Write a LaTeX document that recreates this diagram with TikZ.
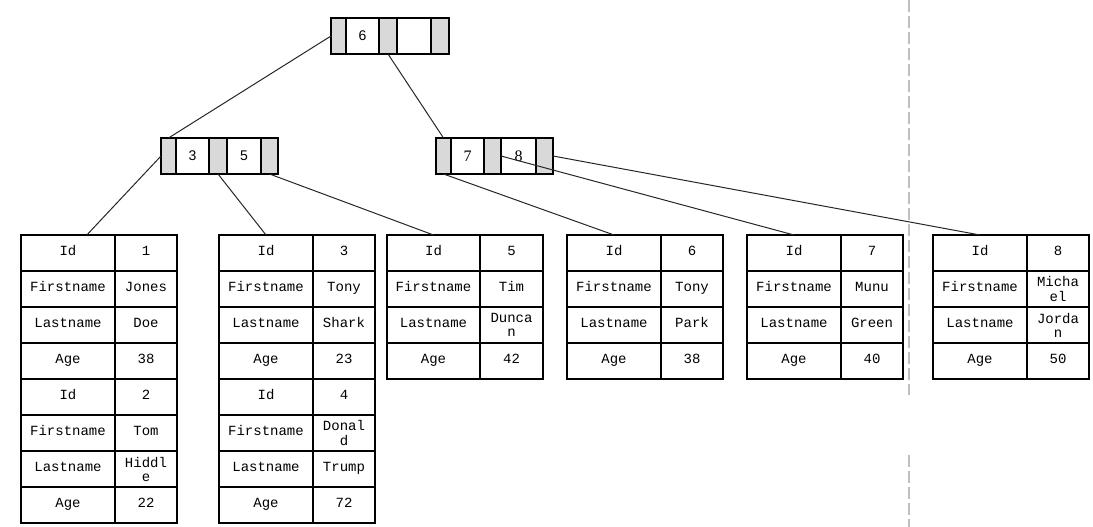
\documentclass[tikz,border=0pt]{standalone}
\usepackage{fontspec}
\setmainfont{Liberation Serif}
\newfontfamily\monof{Liberation Mono}
\newfontfamily\sansf{Liberation Sans}
\usetikzlibrary{calc}
\definecolor{cellgray}{HTML}{D9D9D9}
\definecolor{dashgray}{HTML}{BFBFBF}
\tikzset{
  kbox/.style={draw=black, line width=1.3pt, fill=white, inner sep=0pt, outer sep=0pt, minimum height=27pt, minimum width=#1},
  gbox/.style={kbox=#1, fill=cellgray},
  tcell/.style={draw=black, line width=0.8pt, inner sep=0pt, outer sep=0pt, minimum height=27pt, minimum width=#1,
     align=center, font=\monof\fontsize{10.5}{10.5}\selectfont},
  link/.style={draw=black!85, line width=0.75pt},
  sep/.style={draw=dashgray, line width=0.9pt, dash pattern=on 9pt off 3pt}
}
\newcommand{\tabrow}[7]{%
  \pgfmathsetmacro{\wa}{(#3-#2)*0.75}%
  \pgfmathsetmacro{\wb}{(#4-#3)*0.75}%
  \node[tcell=\wa pt] (#1a) at ({(#2+#3)/2},#5) {\strut#6};
  \node[tcell=\wb pt] (#1b) at ({(#3+#4)/2},#5) {\strut#7};}
\begin{document}
\begin{tikzpicture}[x=0.75pt,y=-0.75pt]
\useasboundingbox (0,0) rectangle (1093,527);
% separator
\coordinate (s1) at (909,0);
\coordinate (s2) at (909,395);
\coordinate (s3) at (909,455);
\coordinate (s4) at (909,527);
\draw[sep] (s1) -- (s2);
\draw[sep] (s3) -- (s4);
% root node
\node[gbox=11.25pt] (r1) at (338.5,36) {};
\node[kbox=24.75pt, font=\sansf\fontsize{10.5}{12}\selectfont] (r2) at (362.5,36) {6};
\node[gbox=13.5pt] (r3) at (388,36) {};
\node[kbox=25.5pt] (r4) at (414,36) {};
\node[gbox=13.5pt] (r5) at (440,36) {};
% left internal node
\node[gbox=11.25pt] (l1) at (168.5,156) {};
\node[kbox=24.75pt, font=\sansf\fontsize{10.5}{12}\selectfont] (l2) at (192.5,156) {3};
\node[gbox=13.5pt] (l3) at (218,156) {};
\node[kbox=25.5pt, font=\sansf\fontsize{10.5}{12}\selectfont] (l4) at (244,156) {5};
\node[gbox=12.75pt] (l5) at (269.5,156) {};
% right internal node
\node[gbox=11.25pt] (q1) at (443.5,156) {};
\node[kbox=24.75pt, font=\fontsize{12}{14}\selectfont] (q2) at (467.5,156) {7};
\node[gbox=12.75pt] (q3) at (492.5,156) {};
\node[kbox=26.25pt, font=\fontsize{12}{14}\selectfont] (q4) at (518.5,156) {8};
\node[gbox=12.75pt] (q5) at (544.5,156) {};
% table 1
\tabrow{ta1}{21}{115}{177}{253}{Id}{1}
\tabrow{ta2}{21}{115}{177}{289}{Firstname}{Jones}
\tabrow{ta3}{21}{115}{177}{325}{Lastname}{Doe}
\tabrow{ta4}{21}{115}{177}{361}{Age}{38}
\tabrow{ta5}{21}{115}{177}{397}{Id}{2}
\tabrow{ta6}{21}{115}{177}{433}{Firstname}{Tom}
\tabrow{ta7}{21}{115}{177}{469}{Lastname}{Hiddl\\e}
\tabrow{ta8}{21}{115}{177}{505}{Age}{22}
% table 2
\tabrow{tb1}{219}{313}{375}{253}{Id}{3}
\tabrow{tb2}{219}{313}{375}{289}{Firstname}{Tony}
\tabrow{tb3}{219}{313}{375}{325}{Lastname}{Shark}
\tabrow{tb4}{219}{313}{375}{361}{Age}{23}
\tabrow{tb5}{219}{313}{375}{397}{Id}{4}
\tabrow{tb6}{219}{313}{375}{433}{Firstname}{Donal\\d}
\tabrow{tb7}{219}{313}{375}{469}{Lastname}{Trump}
\tabrow{tb8}{219}{313}{375}{505}{Age}{72}
% table 3
\tabrow{tc1}{387}{480}{543}{253}{Id}{5}
\tabrow{tc2}{387}{480}{543}{289}{Firstname}{Tim}
\tabrow{tc3}{387}{480}{543}{325}{Lastname}{Dunca\\n}
\tabrow{tc4}{387}{480}{543}{361}{Age}{42}
% table 4
\tabrow{td1}{567}{661}{723}{253}{Id}{6}
\tabrow{td2}{567}{661}{723}{289}{Firstname}{Tony}
\tabrow{td3}{567}{661}{723}{325}{Lastname}{Park}
\tabrow{td4}{567}{661}{723}{361}{Age}{38}
% table 5
\tabrow{te1}{747}{841}{903}{253}{Id}{7}
\tabrow{te2}{747}{841}{903}{289}{Firstname}{Munu}
\tabrow{te3}{747}{841}{903}{325}{Lastname}{Green}
\tabrow{te4}{747}{841}{903}{361}{Age}{40}
% table 6
\tabrow{tf1}{933}{1027}{1089}{253}{Id}{8}
\tabrow{tf2}{933}{1027}{1089}{289}{Firstname}{Micha\\el}
\tabrow{tf3}{933}{1027}{1089}{325}{Lastname}{Jorda\\n}
\tabrow{tf4}{933}{1027}{1089}{361}{Age}{50}
% connectors
\draw[link] (r1.west) -- (l1.north);
\draw[link] (r3.south) -- (q1.north);
\draw[link] (l1.west) -- ($(ta1a.north)!0.4!(ta1a.north east)$);
\draw[link] (l3.south) -- (tb1a.north);
\draw[link] (l5.south) -- (tc1a.north);
\draw[link] (q1.south) -- (td1a.north);
\draw[link] (q3.east) -- (te1a.north);
\draw[link] (q5.east) -- (tf1a.north);
\end{tikzpicture}
\end{document}
